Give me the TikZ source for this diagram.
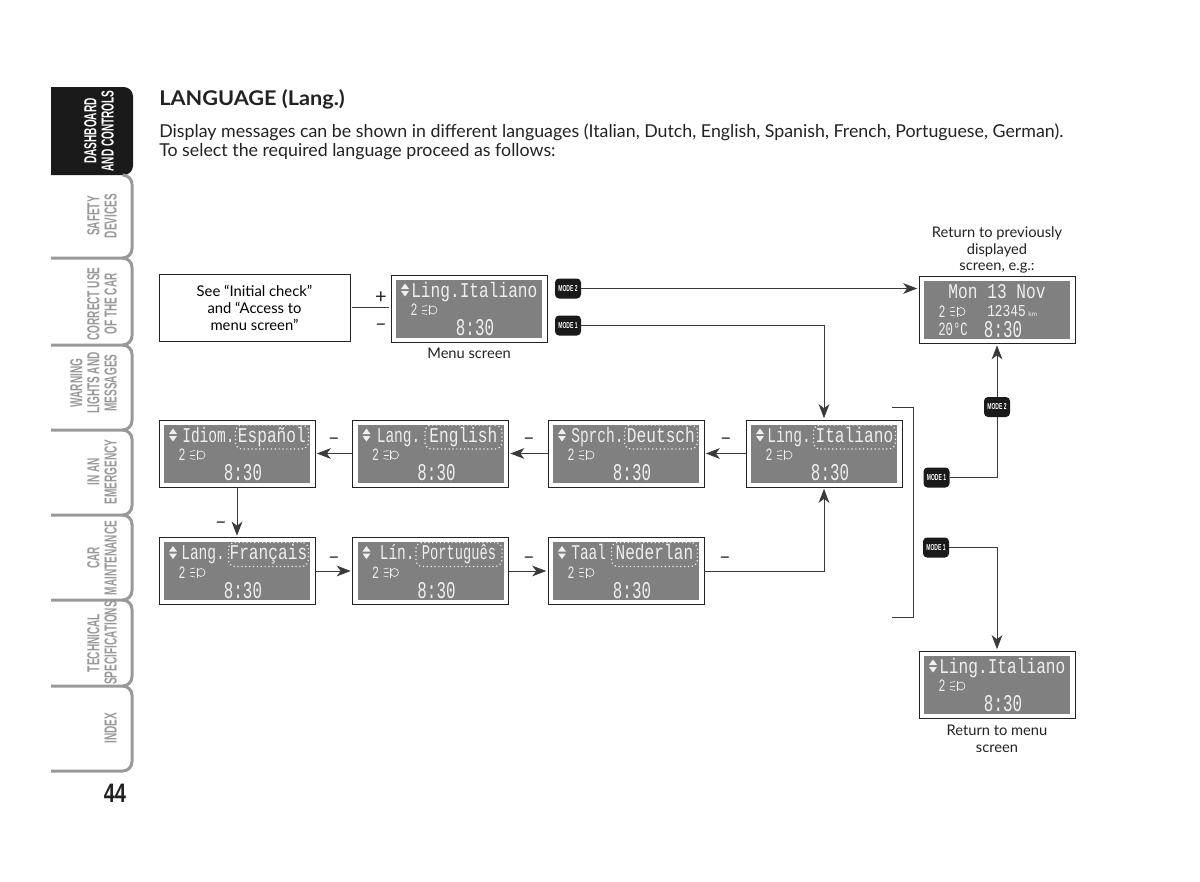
\documentclass[tikz,border=0pt]{standalone}
\usepackage{fontspec}
\usepackage{graphicx}
\usepackage{tikz}
\usetikzlibrary{positioning,arrows.meta,calc}
\setmainfont{Lato}
\newfontfamily\lcdfont[FakeStretch=0.77]{Liberation Mono}
\newfontfamily\lcdtimefont[FakeStretch=0.66]{Liberation Mono}
\newfontfamily\tabfont[FakeStretch=0.58]{Liberation Sans}
\definecolor{ink}{HTML}{222222}
\definecolor{wireink}{HTML}{3A3A3A}
\definecolor{lcdgrey}{HTML}{808080}
\definecolor{lcdink}{HTML}{EFEFEF}
\definecolor{tabgrey}{HTML}{999999}
\definecolor{tabblack}{HTML}{1A1A1A}

% screen frame, face, "2" and lamp, clock
\newcommand{\lcdbase}[3]{
    \node[screenframe] (#1) at (#2,#3) {};
    \begin{scope}[shift={(#1.center)}]
        \node[screenface] (#1face) at (0,0) {};
        \node[lcdsmall] (#1gear) at (-55,1.5) {2};
        \draw[lcdicon] (-36,1.5) ellipse (4 and 4);
        \draw[lcdicon] (-40,-3.5) -- (-40,6.5);
        \draw[lcdicon] (-47,-2) -- (-42,-3);
        \draw[lcdicon] (-47,1.5) -- (-42,1.5);
        \draw[lcdicon] (-47,5) -- (-42,6);
        \node[lcdtime] (#1time) at (6,19.5) {8:30};
    \end{scope}
}
% up/down marks of the top line
\newcommand{\lcdmarks}[2]{
    \begin{scope}[shift={(#1.center)}]
        \fill[lcdink] (#2-4,-19.5) -- (#2+4,-19.5) -- (#2,-25) -- cycle;
        \fill[lcdink] (#2-4,-17.5) -- (#2+4,-17.5) -- (#2,-12) -- cycle;
    \end{scope}
}
% language screen: name, x, y, label, label x, value, box width
\newcommand{\lcdlang}[7]{
    \lcdbase{#1}{#2}{#3}
    \lcdmarks{#1}{-64}
    \node[lcdtext, anchor=base west] (#1label) at ($(#1.center)+(#5-78,-11.5)$) {\scalebox{.9}[1]{#4}};
    \node[lcdvalue, minimum width=#7*0.75pt] (#1value) at ($(#1.center)+(72,-16.5)$) {#6};
}

\begin{document}
\begin{tikzpicture}[
    x=0.75pt, y=-0.75pt,
    screenframe/.style={draw=ink, line width=0.7pt, fill=white, minimum width=117pt, minimum height=50.25pt, inner sep=0pt},
    screenface/.style={fill=lcdgrey, minimum width=109.5pt, minimum height=43.5pt, inner sep=0pt},
    lcdtext/.style={text=lcdink, inner sep=0pt, font=\lcdfont\fontsize{15.75}{16}\selectfont},
    lcdvalue/.style={lcdtext, draw=lcdink, dotted, line width=0.9pt, rounded corners=5pt, anchor=east, text height=12.75pt, text depth=5.25pt, align=center},
    lcdtime/.style={text=lcdink, inner sep=0pt, font=\lcdtimefont\fontsize{18}{18}\selectfont},
    lcdsmall/.style={text=lcdink, inner sep=0pt, font=\lcdtimefont\fontsize{13}{13}\selectfont},
    lcdicon/.style={draw=lcdink, line width=0.5pt},
    modekey/.style={fill=tabblack, rounded corners=3pt, minimum width=19.5pt, minimum height=15pt, inner sep=0pt, text=white, font=\tabfont\bfseries\fontsize{6.5}{7}\selectfont},
    textbox/.style={draw=ink, line width=0.65pt, minimum width=143.25pt, minimum height=50.25pt, align=center, font=\fontsize{11.1}{12.7}\selectfont},
    caption/.style={inner sep=0pt, align=center, text=ink, font=\fontsize{11}{12.7}\selectfont},
    sign/.style={inner sep=0pt, yshift=-2pt, text=ink, font=\fontsize{15}{15}\selectfont},
    wire/.style={draw=wireink, line width=0.65pt},
    arrow/.style={wire, -{Stealth[length=10.5pt, width=8pt, inset=3pt]}, shorten >=1pt},
    tabline/.style={draw=tabgrey, line width=2.25pt, rounded corners=7pt},
    tablabel/.style={rotate=90, anchor=south, inner sep=0pt, align=center, text=tabgrey, font=\tabfont\bfseries\fontsize{13}{12.8}\selectfont}
]
    \useasboundingbox (0,0) rectangle (1200,882);

    % side tabs
    \fill[tabblack] (51,175) -- (51,87) [rounded corners=7pt] -- (133,87) -- (133,175) [sharp corners] -- cycle;
    \draw[tabline] (51,258) -- (132,258) -- (132,175) -- (124,175);
    \draw[tabline] (51,345) -- (132,345) -- (132,258) -- (124,258);
    \draw[tabline] (51,430) -- (132,430) -- (132,345) -- (124,345);
    \draw[tabline] (51,515) -- (132,515) -- (132,430) -- (124,430);
    \draw[tabline] (51,600) -- (132,600) -- (132,515) -- (124,515);
    \draw[tabline] (51,686) -- (132,686) -- (132,600) -- (124,600);
    \draw[tabline] (51,771) -- (132,771) -- (132,686) -- (124,686);
    \node[tablabel, text=white] (tabdash) at (114,131) {DASHBOARD\\AND CONTROLS};
    \node[tablabel] (tabsafe) at (117,216) {SAFETY\\DEVICES};
    \node[tablabel] (tabuse) at (117,304) {CORRECT USE\\OF THE CAR};
    \node[tablabel] (tabwarn) at (117,383) {WARNING\\LIGHTS AND\\MESSAGES};
    \node[tablabel] (tabemer) at (117,472) {IN AN\\EMERGENCY};
    \node[tablabel] (tabcar) at (117,558) {CAR\\MAINTENANCE};
    \node[tablabel] (tabtech) at (117,643) {TECHNICAL\\SPECIFICATIONS};
    \node[tablabel] (tabindex) at (117,728) {INDEX};
    \node[inner sep=0pt, text=ink, font=\tabfont\bfseries\fontsize{20}{20}\selectfont] (pageno) at (115,793) {\scalebox{1.3}[1]{44}};

    % heading
    \node[anchor=base west, inner sep=0pt, text=ink, font=\bfseries\fontsize{15.2}{15.2}\selectfont] (title) at (159,105) {\scalebox{1.07}[1]{LANGUAGE (Lang.)}};
    \node[anchor=base west, inner sep=0pt, text=ink, font=\fontsize{13.34}{13.34}\selectfont] (intro) at (159,137) {Display messages can be shown in different languages (Italian, Dutch, English, Spanish, French, Portuguese, German).};
    \node[anchor=base west, inner sep=0pt, text=ink, font=\fontsize{13.34}{13.34}\selectfont] (introb) at (159,156) {To select the required language proceed as follows:};

    % top row
    \node[textbox] (see) at (254.5,307.5) {See “Initial check”\\and “Access to\\menu screen”};
    \node[sign] (plus) at (381,295) {+};
    \node[sign] (minus) at (381,325) {–};
    \lcdbase{menu}{469}{308.5}
    \lcdmarks{menu}{-64}
    \node[lcdtext, anchor=base west] (menutext) at ($(menu.center)+(-58,-11.5)$) {Ling.Italiano};
    \node[caption] (menucap) at (469,353.5) {Menu screen};
    \node[modekey] (keytwo) at (568,288.5) {MODE 2};
    \node[modekey] (keyone) at (568,325.5) {MODE 1};

    \lcdbase{prev}{997}{310}
    \node[lcdtext] (prevdate) at ($(prev.center)+(0,-18)$) {Mon 13 Nov};
    \node[anchor=west, inner sep=0pt, text=lcdink, font=\lcdfont\fontsize{12.5}{12.5}\selectfont] (prevkm) at ($(prev.center)+(-10,1.5)$) {12345};
    \node[text=lcdink, inner sep=0pt, anchor=west, font=\fontsize{5}{5}\selectfont] (prevunit) at ($(prev.center)+(31,4)$) {km};
    \node[lcdsmall, anchor=west, font=\lcdtimefont\fontsize{14}{14}\selectfont] (prevtemp) at ($(prev.center)+(-59,19)$) {20°C};
    \node[caption] (prevcap) at (997,250) {Return to previously\\displayed\\screen, e.g.:};

    % language screens
    \lcdlang{ital}{824}{453.5}{Ling.}{21}{Italiano}{82}
    \lcdlang{deut}{626}{453.5}{Sprch.}{23}{Deutsch}{73}
    \lcdlang{engl}{430.5}{453.5}{Lang.}{24}{English}{77}
    \lcdlang{espa}{237}{453.5}{Idiom.}{23}{Español}{73}
    \lcdlang{fran}{237}{571}{Lang.}{22}{Français}{80}
    \lcdlang{port}{430.5}{571}{Lín.}{27}{\scalebox{.85}[1]{Português}}{86}
    \lcdlang{nede}{626}{571}{Taal}{23}{Nederlan}{86}

    \node[sign] (dashengl) at (726,439) {–};
    \node[sign] (dashdeut) at (529,439) {–};
    \node[sign] (dashespa) at (334,439) {–};
    \node[sign] (dashfran) at (221,523) {–};
    \node[sign] (dashport) at (334,558) {–};
    \node[sign] (dashnede) at (529,558) {–};
    \node[sign] (dashital) at (725,558) {–};

    % bracket and its keys
    \coordinate (brtop) at (892,407);
    \coordinate (brbot) at (892,617);
    \draw[wire] (brtop) -- ++(21,0) |- (brbot);
    \node[modekey] (sidetwo) at (997,407) {MODE 2};
    \node[modekey] (sideone) at (936.5,477.5) {MODE 1};
    \node[modekey] (lowone) at (936,547.5) {MODE 1};

    \lcdbase{back}{997}{684.5}
    \lcdmarks{back}{-64}
    \node[lcdtext, anchor=base west] (backtext) at ($(back.center)+(-58,-11.5)$) {Ling.Italiano};
    \node[caption] (backcap) at (997,738.5) {Return to menu\\screen};

    % connectors
    \draw[wire, shorten <=1.5pt, shorten >=1.5pt] (see.east) -- (see.east -| menu.west);
    \draw[arrow] (keytwo) -- (keytwo -| prev.west);
    \draw[arrow] (keyone) -| (ital);
    \draw[arrow] (ital) -- (deut);
    \draw[arrow] (deut) -- (engl);
    \draw[arrow] (engl) -- (espa);
    \draw[arrow] (espa) -- (fran);
    \draw[arrow] (fran) -- (port);
    \draw[arrow] (port) -- (nede);
    \draw[arrow] (nede) -| (ital);
    \draw[wire] (sideone) -| (sidetwo);
    \draw[arrow] (sidetwo) -- (prev);
    \draw[arrow] (lowone) -| (back);
\end{tikzpicture}
\end{document}
